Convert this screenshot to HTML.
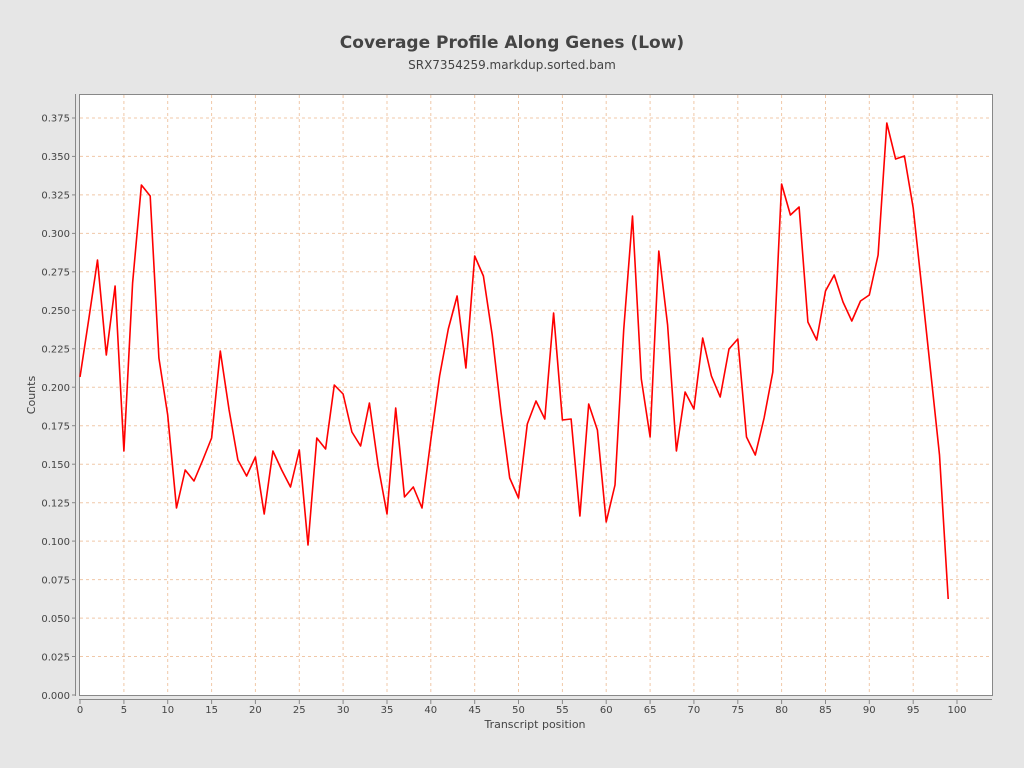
<!DOCTYPE html>
<html><head><style>
html,body{margin:0;padding:0;background:#e6e6e6;}
svg{display:block;font-family:"DejaVu Sans","Liberation Sans",sans-serif;}
</style></head><body>
<svg width="1024" height="768" xmlns="http://www.w3.org/2000/svg">
<rect width="1024" height="768" fill="#e6e6e6"/>
<text x="512" y="48" text-anchor="middle" font-size="17" font-weight="bold" fill="#444">Coverage Profile Along Genes (Low)</text>
<text x="512" y="69" text-anchor="middle" font-size="12" fill="#444">SRX7354259.markdup.sorted.bam</text>
<rect x="79.5" y="94.5" width="913" height="601" fill="#fff" stroke="#888"/>
<g stroke="#f0c8a8" stroke-dasharray="3,3" stroke-width="1">
<line x1="80" x2="992" y1="656.5" y2="656.5"/><line x1="80" x2="992" y1="618.1" y2="618.1"/><line x1="80" x2="992" y1="579.6" y2="579.6"/><line x1="80" x2="992" y1="541.1" y2="541.1"/><line x1="80" x2="992" y1="502.7" y2="502.7"/><line x1="80" x2="992" y1="464.2" y2="464.2"/><line x1="80" x2="992" y1="425.7" y2="425.7"/><line x1="80" x2="992" y1="387.2" y2="387.2"/><line x1="80" x2="992" y1="348.8" y2="348.8"/><line x1="80" x2="992" y1="310.3" y2="310.3"/><line x1="80" x2="992" y1="271.8" y2="271.8"/><line x1="80" x2="992" y1="233.4" y2="233.4"/><line x1="80" x2="992" y1="194.9" y2="194.9"/><line x1="80" x2="992" y1="156.4" y2="156.4"/><line x1="80" x2="992" y1="118" y2="118"/>
<line y1="95" y2="695" x1="123.9" x2="123.9"/><line y1="95" y2="695" x1="167.7" x2="167.7"/><line y1="95" y2="695" x1="211.6" x2="211.6"/><line y1="95" y2="695" x1="255.4" x2="255.4"/><line y1="95" y2="695" x1="299.3" x2="299.3"/><line y1="95" y2="695" x1="343.1" x2="343.1"/><line y1="95" y2="695" x1="387" x2="387"/><line y1="95" y2="695" x1="430.8" x2="430.8"/><line y1="95" y2="695" x1="474.7" x2="474.7"/><line y1="95" y2="695" x1="518.5" x2="518.5"/><line y1="95" y2="695" x1="562.4" x2="562.4"/><line y1="95" y2="695" x1="606.2" x2="606.2"/><line y1="95" y2="695" x1="650.1" x2="650.1"/><line y1="95" y2="695" x1="693.9" x2="693.9"/><line y1="95" y2="695" x1="737.8" x2="737.8"/><line y1="95" y2="695" x1="781.6" x2="781.6"/><line y1="95" y2="695" x1="825.5" x2="825.5"/><line y1="95" y2="695" x1="869.3" x2="869.3"/><line y1="95" y2="695" x1="913.2" x2="913.2"/><line y1="95" y2="695" x1="957" x2="957"/>
</g>
<g stroke="#888" stroke-width="1">
<line x1="75.5" x2="75.5" y1="94" y2="696"/>
<line x1="79" x2="992" y1="699.5" y2="699.5"/>
</g>
<g stroke="#888" stroke-width="1">
<line x1="72" x2="75" y1="695" y2="695"/><line x1="72" x2="75" y1="656.5" y2="656.5"/><line x1="72" x2="75" y1="618.1" y2="618.1"/><line x1="72" x2="75" y1="579.6" y2="579.6"/><line x1="72" x2="75" y1="541.1" y2="541.1"/><line x1="72" x2="75" y1="502.7" y2="502.7"/><line x1="72" x2="75" y1="464.2" y2="464.2"/><line x1="72" x2="75" y1="425.7" y2="425.7"/><line x1="72" x2="75" y1="387.2" y2="387.2"/><line x1="72" x2="75" y1="348.8" y2="348.8"/><line x1="72" x2="75" y1="310.3" y2="310.3"/><line x1="72" x2="75" y1="271.8" y2="271.8"/><line x1="72" x2="75" y1="233.4" y2="233.4"/><line x1="72" x2="75" y1="194.9" y2="194.9"/><line x1="72" x2="75" y1="156.4" y2="156.4"/><line x1="72" x2="75" y1="118" y2="118"/>
</g>
<g font-size="10" fill="#444" text-anchor="end">
<text x="70" y="699">0.000</text><text x="70" y="660.5">0.025</text><text x="70" y="622">0.050</text><text x="70" y="583.5">0.075</text><text x="70" y="545">0.100</text><text x="70" y="506.5">0.125</text><text x="70" y="468">0.150</text><text x="70" y="429.5">0.175</text><text x="70" y="391">0.200</text><text x="70" y="352.5">0.225</text><text x="70" y="314">0.250</text><text x="70" y="275.5">0.275</text><text x="70" y="237">0.300</text><text x="70" y="198.5">0.325</text><text x="70" y="160">0.350</text><text x="70" y="121.5">0.375</text>
</g>
<g font-size="10" fill="#444" text-anchor="middle">
<text x="80" y="713">0</text><text x="123.9" y="713">5</text><text x="167.7" y="713">10</text><text x="211.6" y="713">15</text><text x="255.4" y="713">20</text><text x="299.3" y="713">25</text><text x="343.1" y="713">30</text><text x="387" y="713">35</text><text x="430.8" y="713">40</text><text x="474.7" y="713">45</text><text x="518.5" y="713">50</text><text x="562.4" y="713">55</text><text x="606.2" y="713">60</text><text x="650.1" y="713">65</text><text x="693.9" y="713">70</text><text x="737.8" y="713">75</text><text x="781.6" y="713">80</text><text x="825.5" y="713">85</text><text x="869.3" y="713">90</text><text x="913.2" y="713">95</text><text x="957" y="713">100</text>
</g>
<g stroke="#888"><path d="M80 700v4M123.9 700v4M167.7 700v4M211.6 700v4M255.4 700v4M299.3 700v4M343.1 700v4M387 700v4M430.8 700v4M474.7 700v4M518.5 700v4M562.4 700v4M606.2 700v4M650.1 700v4M693.9 700v4M737.8 700v4M781.6 700v4M825.5 700v4M869.3 700v4M913.2 700v4M957 700v4"/></g>
<text x="535" y="728" text-anchor="middle" font-size="11" fill="#444">Transcript position</text>
<text transform="translate(35,395) rotate(-90)" text-anchor="middle" font-size="11" fill="#444">Counts</text>
<polyline fill="none" stroke="#ff0000" stroke-width="1.6" stroke-linejoin="round" points="80,377 88.8,319 97.5,260 106.3,355 115.1,286 123.9,451 132.6,283 141.4,185 150.2,196 158.9,358 167.7,415 176.5,508 185.2,470 194,481 202.8,460 211.6,438 220.3,351 229.1,410 237.9,460 246.6,476 255.4,457 264.2,514 272.9,451 281.7,470 290.5,487 299.3,450 308,545 316.8,438 325.6,449 334.3,385 343.1,394 351.9,432 360.6,446 369.4,403 378.2,466 387,514 395.7,408 404.5,497 413.3,487 422,508 430.8,440 439.6,376 448.3,329 457.1,296 465.9,368 474.7,256 483.4,276 492.2,335 501,412 509.7,478 518.5,498 527.3,424 536,401 544.8,419 553.6,313 562.4,420 571.1,419 579.9,516 588.7,404 597.4,430 606.2,522 615,485 623.7,330 632.5,216 641.3,379 650.1,437 658.8,251 667.6,325 676.4,451 685.1,392 693.9,409 702.7,338 711.4,376 720.2,397 729,349 737.8,339 746.5,437 755.3,455 764.1,418 772.8,372 781.6,184 790.4,215 799.1,207 807.9,322 816.7,340 825.5,291 834.2,275 843,302 851.8,321 860.5,301 869.3,295 878.1,255 886.8,123 895.6,159 904.4,156 913.2,208 921.9,289 930.7,372 939.5,455 948.2,599"/>
</svg>
</body></html>
